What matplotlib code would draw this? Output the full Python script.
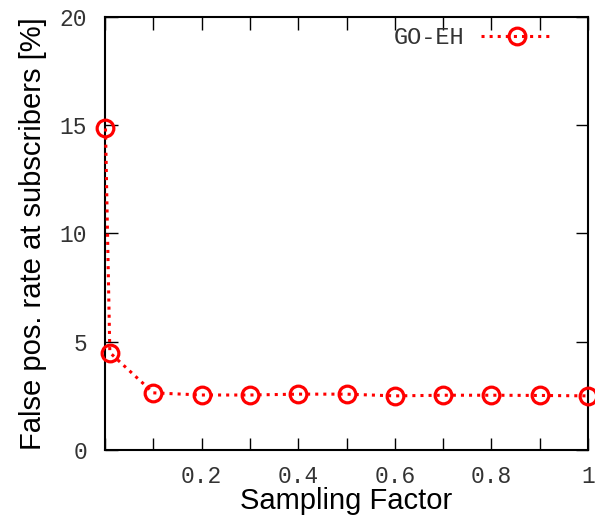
import numpy as np
import matplotlib.pyplot as plt

# Datos
sampling = [0.001, 0.01, 0.1, 0.2, 0.3, 0.4, 0.5, 0.6, 0.7, 0.8, 0.9, 1.0]
fp_rate = [14.85, 4.5, 2.64, 2.54, 2.54, 2.58, 2.58, 2.5, 2.53, 2.53, 2.52, 2.5]
xtick_pos = [0.2, 0.4, 0.6, 0.8, 1.0]
xtick_lab = ['0.2', '0.4', '0.6', '0.8', '1']
ytick_pos = [0, 5, 10, 15, 20]

mono = 'Liberation Mono'
sans = 'Liberation Sans'

fig = plt.figure(figsize=(5.95, 5.24), dpi=100)
ax = fig.add_axes([105 / 595, 1 - 450 / 524, 483 / 595, 433 / 524])

ax.plot(sampling, fp_rate, color='red', linestyle=':', linewidth=2.2,
        marker='o', markersize=12, markerfacecolor='none',
        markeredgewidth=2.3, label='GO-EH', clip_on=False, zorder=5)

ax.set_xlim(0, 1)
ax.set_ylim(0, 20)
ax.set_xticks(xtick_pos)
ax.set_xticklabels(xtick_lab)
ax.set_xticks(np.arange(0, 1.01, 0.1), minor=True)
ax.set_yticks(ytick_pos)
for lab in ax.get_xticklabels() + ax.get_yticklabels():
    lab.set_fontfamily(mono)
    lab.set_fontsize(16.5)
    lab.set_color('#333333')
ax.tick_params(which='both', direction='in', length=9, width=1,
               top=True, right=True, pad=13)
ax.tick_params(axis='x', pad=11)

for s in ax.spines.values():
    s.set_linewidth(1.5)

ax.set_xlabel('Sampling Factor', fontfamily=sans, fontsize=21, labelpad=-1)
ax.set_ylabel('False pos. rate at subscribers [%]', fontfamily=sans,
              fontsize=21, labelpad=9)

leg = ax.legend(loc='upper right', bbox_to_anchor=(0.945, 1.0),
                borderaxespad=0, frameon=False, markerfirst=False,
                prop={'family': mono, 'size': 17}, handlelength=3,
                handletextpad=0.7)
for t in leg.get_texts():
    t.set_color('#333333')

fig.savefig('out.png', dpi=100)
